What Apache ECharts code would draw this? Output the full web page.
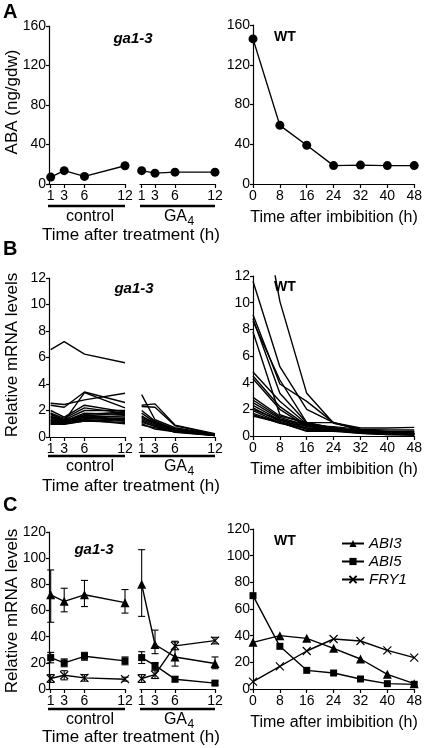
<!DOCTYPE html>
<html><head><meta charset="utf-8">
<script src="https://cdn.jsdelivr.net/npm/echarts@6/dist/echarts.min.js"></script>
<style>html,body{margin:0;padding:0;background:#fff}#c{width:425px;height:748px}</style>
</head><body><div id="c"></div>
<script>
// ---------- data ----------
const treatHours = [1, 3, 6, 12];
const wtHours = [0, 8, 16, 24, 32, 40, 48];

// Panel A: ABA (ng/gdw)
const abaCtrl = [7, 13.5, 7.7, 18.5];
const abaGA4 = [13.5, 11, 12, 12];
const abaWT = [146, 59, 39, 18.5, 19, 18.5, 18.5];

// Panel B: relative mRNA levels, one row per gene
const mrnaCtrl = [
  [6.6, 7.2, 6.25, 5.6],
  [2.55, 2.45, 2.8, 3.3],
  [2.4, 2.25, 3.4, 2.6],
  [1.8, 1.2, 3.35, 2.2],
  [2.0, 1.5, 2.4, 1.9],
  [1.8, 1.4, 2.2, 1.8],
  [1.7, 1.3, 2.0, 2.0],
  [1.6, 1.2, 1.8, 1.7],
  [1.5, 1.1, 1.7, 1.9],
  [1.4, 1.2, 1.6, 1.5],
  [1.3, 1.1, 1.5, 1.6],
  [1.2, 1.0, 1.5, 1.4],
  [1.1, 1.0, 1.4, 1.3],
  [1.0, 1.0, 1.3, 1.2],
  [1.0, 0.95, 1.2, 1.1],
  [1.3, 1.0, 1.6, 1.8],
  [1.1, 1.05, 1.3, 1.0],
  [1.5, 1.3, 1.5, 1.3],
  [0.95, 1.0, 1.2, 1.4],
  [1.2, 1.15, 1.7, 1.2]
];
const mrnaGA4 = [
  [3.2, 1.3, 0.7, 0.2],
  [2.4, 2.5, 0.9, 0.25],
  [2.3, 2.25, 0.85, 0.2],
  [2.0, 1.2, 0.6, 0.15],
  [1.8, 1.1, 0.55, 0.15],
  [1.6, 1.0, 0.5, 0.1],
  [1.5, 1.1, 0.6, 0.2],
  [1.3, 0.9, 0.45, 0.1],
  [1.2, 0.8, 0.5, 0.15],
  [1.0, 0.6, 0.4, 0.1],
  [0.9, 0.7, 0.45, 0.12],
  [1.4, 1.0, 0.5, 0.2],
  [1.1, 0.8, 0.35, 0.1]
];
const mrnaWT = [
  [21, 10.1, 3.2, 0.95, 0.5, 0.35, 0.3],
  [11.6, 5.2, 2.0, 1.0, 0.5, 0.3, 0.2],
  [9.1, 3.9, 2.6, 1.0, 0.45, 0.3, 0.2],
  [8.8, 3.2, 1.0, 0.6, 0.35, 0.2, 0.15],
  [8.6, 4.2, 1.0, 0.6, 0.3, 0.2, 0.1],
  [7.8, 1.6, 0.9, 0.5, 0.3, 0.2, 0.15],
  [4.8, 2.6, 0.9, 0.6, 0.35, 0.2, 0.2],
  [4.5, 2.2, 0.8, 0.5, 0.3, 0.2, 0.15],
  [4.3, 2.0, 0.7, 0.5, 0.3, 0.25, 0.2],
  [2.9, 1.5, 1.0, 1.0, 0.6, 0.6, 0.65],
  [2.7, 1.4, 0.8, 0.7, 0.5, 0.45, 0.45],
  [2.5, 1.3, 0.7, 0.6, 0.4, 0.3, 0.35],
  [2.3, 1.2, 0.6, 0.5, 0.3, 0.2, 0.2],
  [2.1, 1.1, 0.5, 0.45, 0.3, 0.15, 0.1],
  [1.9, 1.0, 0.4, 0.4, 0.25, 0.15, 0.1],
  [1.7, 1.0, 0.35, 0.35, 0.2, 0.1, 0.1],
  [1.6, 0.95, 0.6, 0.4, 0.2, 0.1, 0.05],
  [1.5, 1.0, 0.8, 0.5, 0.3, 0.2, 0.15],
  [2.0, 1.2, 0.9, 0.6, 0.4, 0.3, 0.3]
];

// Panel C: mean, lower, upper
const ctrlABI3 = [72, 67, 72, 66], ctrlABI3Lo = [51, 59, 63, 58], ctrlABI3Hi = [91, 77, 83, 76];
const ctrlABI5 = [24, 20, 25, 21.5], ctrlABI5Lo = [20, 17, 22, 18.5], ctrlABI5Hi = [28, 23, 28, 24.5];
const ctrlFRY1 = [8, 10.5, 8.5, 7.5], ctrlFRY1Lo = [5, 7, 6, 6], ctrlFRY1Hi = [11, 14, 11, 9];
const ga4ABI3 = [80, 34, 24.5, 19.5], ga4ABI3Lo = [55.5, 27, 17.5, 15.5], ga4ABI3Hi = [106.5, 45, 36.5, 24.5];
const ga4ABI5 = [24, 18, 7.5, 4.5], ga4ABI5Lo = [19.5, 15, 5.5, 3], ga4ABI5Hi = [28.5, 20, 9.5, 6];
const ga4FRY1 = [8, 11, 33, 37], ga4FRY1Lo = [5, 8, 30, 34.5], ga4FRY1Hi = [11, 14, 36, 39.5];
const wtABI3 = [35, 40, 38, 30.5, 22.5, 11, 4];
const wtABI5 = [70, 32, 14, 12, 7.5, 4, 3.5];
const wtFRY1 = [5.5, 17, 28.5, 37.5, 36, 29, 23.5];
const geneNames = ['ABI3', 'ABI5', 'FRY1'];

// ---------- layout ----------
const FONT = 'Liberation Sans, Arial, Helvetica, sans-serif';
const BLACK = '#000';
const rows = [
  {top: 26, h: 158, rtop: 25, rh: 159, min: 0, max: 160, interval: 40},
  {top: 278, h: 159, rtop: 276, rh: 160, min: 0, max: 12, interval: 2},
  {top: 532, h: 157, rtop: 529, rh: 160, min: 0, max: 120, interval: 20}
];
const grids = [], xAxes = [], yAxes = [];
const axisLine = {show: true, lineStyle: {color: BLACK, width: 1.2}};
const tickStyle = {show: true, length: 4, lineStyle: {color: BLACK, width: 1.2}};
const labelStyle = {color: BLACK, fontSize: 14, fontFamily: FONT};
rows.forEach((r) => {
  grids.push({left: 49, width: 76, top: r.top, height: r.h});    // control
  grids.push({left: 140, width: 75, top: r.top, height: r.h});   // GA4
  grids.push({left: 253, width: 162, top: r.rtop, height: r.rh}); // WT
  [3, 2].forEach((back) => {
    xAxes.push({gridIndex: grids.length - back, type: 'value', min: 0.75, max: 12,
      axisLine, splitLine: {show: false},
      axisTick: Object.assign({}, tickStyle, {customValues: treatHours}),
      axisLabel: Object.assign({}, labelStyle, {margin: 5, customValues: treatHours})});
  });
  xAxes.push({gridIndex: grids.length - 1, type: 'value', min: 0, max: 48, interval: 8,
    axisLine, splitLine: {show: false}, axisTick: tickStyle,
    axisLabel: Object.assign({}, labelStyle, {margin: 5})});
  const yBase = {type: 'value', min: r.min, max: r.max, interval: r.interval, splitLine: {show: false},
    axisLine, axisTick: Object.assign({}, tickStyle, {length: 3}),
    axisLabel: Object.assign({}, labelStyle, {margin: 3})};
  yAxes.push(Object.assign({gridIndex: grids.length - 3}, yBase));
  yAxes.push(Object.assign({gridIndex: grids.length - 2}, yBase, {show: false}));
  yAxes.push(Object.assign({gridIndex: grids.length - 1}, yBase));
});

const zip = (xs, ys) => xs.map((x, i) => [x, ys[i]]);
const series = [];

// Panel A
[[0, treatHours, abaCtrl], [1, treatHours, abaGA4], [2, wtHours, abaWT]].forEach(([ax, xs, ys]) => {
  series.push({type: 'line', xAxisIndex: ax, yAxisIndex: ax, data: zip(xs, ys),
    symbol: 'circle', symbolSize: 9, showAllSymbol: true,
    itemStyle: {color: BLACK}, lineStyle: {color: BLACK, width: 1.4}});
});

// Panel B
[[3, treatHours, mrnaCtrl], [4, treatHours, mrnaGA4], [5, wtHours, mrnaWT]].forEach(([ax, xs, lines]) => {
  lines.forEach((ys) => {
    series.push({type: 'line', xAxisIndex: ax, yAxisIndex: ax, data: zip(xs, ys),
      showSymbol: false, clip: true, lineStyle: {color: BLACK, width: 1.4}, silent: true});
  });
});

// Panel C
const symbols = {
  ABI3: {symbol: 'triangle', symbolSize: 9},
  ABI5: {symbol: 'rect', symbolSize: 7},
  FRY1: {symbol: 'path://M0,0L10,10M10,0L0,10', symbolSize: 8}
};
function geneSeries(name, ax, xs, ys) {
  const s = symbols[name];
  return {type: 'line', name, xAxisIndex: ax, yAxisIndex: ax, data: zip(xs, ys),
    symbol: s.symbol, symbolSize: s.symbolSize, showAllSymbol: true,
    itemStyle: name === 'FRY1' ? {color: BLACK, borderColor: BLACK, borderWidth: 1.2} : {color: BLACK},
    lineStyle: {color: BLACK, width: 1.4}, z: 3};
}
function errSeries(ax, xs, lo, hi) {
  return {type: 'custom', xAxisIndex: ax, yAxisIndex: ax, silent: true, z: 2,
    data: xs.map((x, i) => [x, lo[i], hi[i]]),
    renderItem: (params, api) => {
      const p1 = api.coord([api.value(0), api.value(1)]);
      const p2 = api.coord([api.value(0), api.value(2)]);
      const w = 3.5, st = {stroke: BLACK, lineWidth: 1.1};
      return {type: 'group', children: [
        {type: 'line', shape: {x1: p1[0], y1: p1[1], x2: p2[0], y2: p2[1]}, style: st},
        {type: 'line', shape: {x1: p1[0] - w, y1: p1[1], x2: p1[0] + w, y2: p1[1]}, style: st},
        {type: 'line', shape: {x1: p2[0] - w, y1: p2[1], x2: p2[0] + w, y2: p2[1]}, style: st}
      ]};
    }};
}
[
  ['ABI3', ctrlABI3, ctrlABI3Lo, ctrlABI3Hi],
  ['ABI5', ctrlABI5, ctrlABI5Lo, ctrlABI5Hi],
  ['FRY1', ctrlFRY1, ctrlFRY1Lo, ctrlFRY1Hi]
].forEach(([n, m, lo, hi]) => { series.push(errSeries(6, treatHours, lo, hi)); series.push(geneSeries(n, 6, treatHours, m)); });
[
  ['ABI3', ga4ABI3, ga4ABI3Lo, ga4ABI3Hi],
  ['ABI5', ga4ABI5, ga4ABI5Lo, ga4ABI5Hi],
  ['FRY1', ga4FRY1, ga4FRY1Lo, ga4FRY1Hi]
].forEach(([n, m, lo, hi]) => { series.push(errSeries(7, treatHours, lo, hi)); series.push(geneSeries(n, 7, treatHours, m)); });
[['ABI3', wtABI3], ['ABI5', wtABI5], ['FRY1', wtFRY1]].forEach(([n, m]) => series.push(geneSeries(n, 8, wtHours, m)));

// ---------- annotations ----------
function txt(x, y, text, size, extra) {
  return Object.assign({type: 'text', x, y, silent: true,
    style: Object.assign({text, fill: BLACK, font: size + 'px ' + FONT, textAlign: 'center', textVerticalAlign: 'middle'}, extra || {})});
}
function bar(x1, x2, y) {
  return {type: 'line', silent: true, shape: {x1, y1: y, x2, y2: y}, style: {stroke: BLACK, lineWidth: 2.5}};
}
const graphic = [];
[['A', 12.5], ['B', 249], ['C', 505]].forEach(([t, y]) => graphic.push(txt(3, y, t, 20, {font: 'bold 20px ' + FONT, textAlign: 'left'})));
[[133, 39], [134, 289], [94, 550]].forEach(([x, y]) => graphic.push(txt(x, y, 'ga1-3', 15, {font: 'italic bold 15px ' + FONT})));
[[285, 37], [285, 287], [285, 541]].forEach(([x, y]) => graphic.push(txt(x, y, 'WT', 14, {font: 'bold 14px ' + FONT})));
[[206, 217, 235], [456, 467, 486], [709, 720, 737]].forEach(([by, ly, ty]) => {
  graphic.push(bar(48, 125, by));
  graphic.push(bar(140, 215, by));
  graphic.push(txt(90, ly, 'control', 16));
  graphic.push(txt(187, ly, 'GA', 16, {textAlign: 'right'}));
  graphic.push(txt(187.5, ly + 5, '4', 12, {textAlign: 'left'}));
  graphic.push(txt(131, ty, 'Time after treatment (h)', 17));
});
[218, 470, 723].forEach((y) => graphic.push(txt(334, y, 'Time after imbibition (h)', 16)));
[[102, 'ABA (ng/gdw)'], [355, 'Relative mRNA levels'], [611, 'Relative mRNA levels']].forEach(([y, t]) =>
  graphic.push(Object.assign(txt(12, y, t, 17), {rotation: Math.PI / 2})));

const chart = echarts.init(document.getElementById('c'), null, {renderer: 'canvas'});
chart.setOption({
  animation: false,
  backgroundColor: '#fff',
  grid: grids,
  xAxis: xAxes,
  yAxis: yAxes,
  series,
  legend: {orient: 'vertical', left: 336, top: 531, itemWidth: 22, itemHeight: 9, itemGap: 3,
    data: geneNames, selectedMode: false,
    textStyle: {fontStyle: 'italic', fontSize: 15, fontFamily: FONT, color: BLACK}},
  graphic
});
</script></body></html>
